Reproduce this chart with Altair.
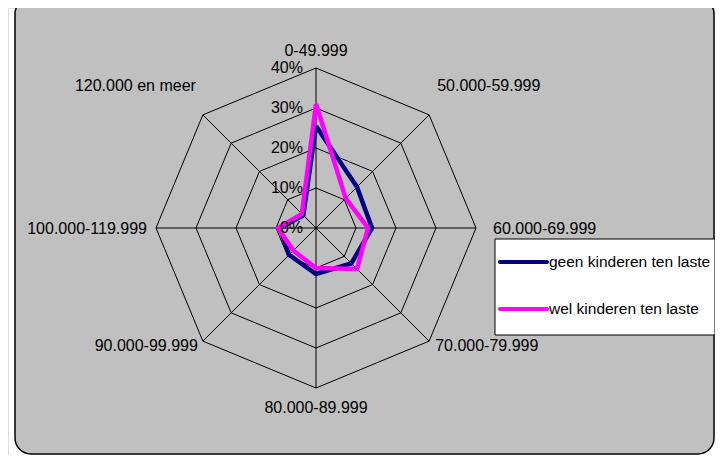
import altair as alt
import pandas as pd

# ---- data ----
categories = ["0-49.999", "50.000-59.999", "60.000-69.999", "70.000-79.999",
              "80.000-89.999", "90.000-99.999", "100.000-119.999", "120.000 en meer"]
series_names = ["geen kinderen ten laste", "wel kinderen ten laste"]
geen = [25.5, 14.5, 14.0, 12.5, 11.5, 9.5, 9.0, 4.5]
wel = [31.0, 10.5, 13.0, 14.5, 10.0, 8.0, 9.5, 5.0]
levels = [0, 10, 20, 30, 40]
level_labels = ["0%", "10%", "20%", "30%", "40%"]
colors = ["#000080", "#FF00FF"]

FONT = "Liberation Sans"
N = len(categories)

# series table (closed polygons)
rows = []
for s, vals in zip(series_names, [geen, wel]):
    for k in range(N + 1):
        i = k % N
        rows.append({"series": s, "idx": i, "ord": k, "value": vals[i]})
series_df = pd.DataFrame(rows)

# grid octagons
grid_rows = []
for lv in levels[1:]:
    for k in range(N + 1):
        grid_rows.append({"level": lv, "idx": k % N, "ord": k})
grid_df = pd.DataFrame(grid_rows)

spoke_df = pd.DataFrame({"idx": list(range(N)), "cat": categories, "r": [levels[-1]] * N})
tick_df = pd.DataFrame({"level": levels, "label": level_labels})

xs = alt.Scale(domain=[-40, 40], range=[148, 468])
ys = alt.Scale(domain=[-40, 40], range=[380, 60])

def X(f):
    return alt.X(f, type="quantitative", scale=xs, axis=None)

def Y(f):
    return alt.Y(f, type="quantitative", scale=ys, axis=None)

W, H = 707, 447

background = alt.Chart(pd.DataFrame({"a": [0]})).mark_rect(
    fill="#C0C0C0", stroke="black", strokeWidth=1.5, cornerRadius=16
).encode(x=alt.value(7), x2=alt.value(706), y=alt.value(-10), y2=alt.value(446))

grid = alt.Chart(grid_df).transform_calculate(
    gx="datum.level * sin(datum.idx * PI / 4)",
    gy="datum.level * cos(datum.idx * PI / 4)",
).mark_line(color="black", strokeWidth=1).encode(
    x=X("gx"), y=Y("gy"), detail="level:N", order="ord:Q"
)

spokes = alt.Chart(spoke_df).transform_calculate(
    sx="datum.r * sin(datum.idx * PI / 4)",
    sy="datum.r * cos(datum.idx * PI / 4)",
    zero="0",
).mark_rule(color="black", strokeWidth=1).encode(
    x=X("zero"), y=Y("zero"), x2="sx:Q", y2="sy:Q"
)

lines = []
for s, c in zip(series_names, colors):
    lines.append(
        alt.Chart(series_df).transform_filter(alt.datum.series == s).transform_calculate(
            px="datum.value * sin(datum.idx * PI / 4)",
            py="datum.value * cos(datum.idx * PI / 4)",
        ).mark_line(color=c, strokeWidth=4.5, strokeJoin="miter").encode(
            x=X("px"), y=Y("py"), order="ord:Q"
        )
    )

ticks = alt.Chart(tick_df).transform_calculate(zero="0").mark_text(
    align="right", baseline="middle", dx=-13, font=FONT, fontSize=16, color="black"
).encode(x=X("zero"), y=Y("level"), text="label:N")

# category label placement (align, dx, dy)
label_style = [
    ("center", 0, -12),
    ("left", 8, -24),
    ("left", 17, 6),
    ("left", 6, 10),
    ("center", 0, 25),
    ("right", -5, 10),
    ("right", -9, 6),
    ("right", -7, -24),
]
cat_labels = []
for i, (al, dx, dy) in enumerate(label_style):
    cat_labels.append(
        alt.Chart(spoke_df).transform_filter(alt.datum.idx == i).transform_calculate(
            lx="datum.r * sin(datum.idx * PI / 4)",
            ly="datum.r * cos(datum.idx * PI / 4)",
        ).mark_text(
            align=al, baseline="alphabetic", dx=dx, dy=dy, font=FONT, fontSize=16, color="black"
        ).encode(x=X("lx"), y=Y("ly"), text="cat:N")
    )

# legend
legend_box = alt.Chart(pd.DataFrame({"a": [0]})).mark_rect(
    fill="white", stroke="black", strokeWidth=1
).encode(x=alt.value(487), x2=alt.value(707), y=alt.value(231), y2=alt.value(327))

legend_items = []
for j, (s, c) in enumerate(zip(series_names, colors)):
    yy = 254 + 47 * j
    legend_items.append(
        alt.Chart(pd.DataFrame({"series": [s]})).mark_rule(color=c, strokeWidth=4, strokeCap="round").encode(
            x=alt.value(492), x2=alt.value(539), y=alt.value(yy)
        )
    )
    legend_items.append(
        alt.Chart(pd.DataFrame({"series": [s]})).mark_text(
            align="left", baseline="middle", font=FONT, fontSize=15.5, color="black"
        ).encode(x=alt.value(541), y=alt.value(yy), text="series:N")
    )

chart = alt.layer(
    background, grid, spokes, *lines, ticks, *cat_labels, legend_box, *legend_items
).properties(
    width=W, height=H, autosize=alt.AutoSizeParams(type="none"), padding=0
).configure_view(stroke=None).configure(background="white")

chart.save("out.html", embed_options={"renderer": "svg", "actions": False})
